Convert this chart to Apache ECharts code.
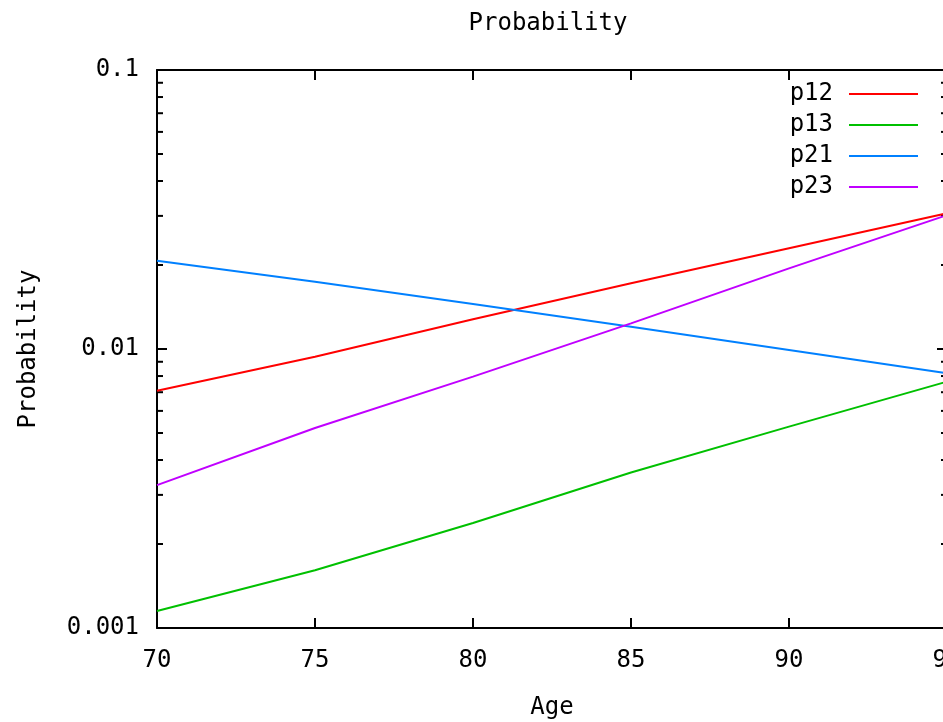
<!DOCTYPE html>
<html>
<head>
<meta charset="utf-8">
<style>
  html, body { margin: 0; padding: 0; overflow: hidden; background: #fff; }
  #chart { width: 960px; height: 722px; }
</style>
<script src="https://cdn.jsdelivr.net/npm/echarts@6/dist/echarts.min.js"></script>
</head>
<body>
<div id="chart"></div>
<script>
// values, every 5 years of age
var ages = [70, 75, 80, 85, 90, 95];
var p12 = [0.00709, 0.00938, 0.01278, 0.01720, 0.02296, 0.03064];
var p13 = [0.00115, 0.00161, 0.00238, 0.00361, 0.00527, 0.00764];
var p21 = [0.02072, 0.01741, 0.01449, 0.01202, 0.00992, 0.00818];
var p23 = [0.00325, 0.00521, 0.00796, 0.01236, 0.01946, 0.03020];
var seriesNames = ['p12', 'p13', 'p21', 'p23'];
var seriesColors = ['#ff0000', '#00c000', '#0080ff', '#c000ff'];
// log minor ticks (2..9 in each decade)
var yMinorTicks = [0.002, 0.003, 0.004, 0.005, 0.006, 0.007, 0.008, 0.009,
                   0.02, 0.03, 0.04, 0.05, 0.06, 0.07, 0.08, 0.09];

var font = 'DejaVu Sans Mono';
var fs = 24;

function pairs(ys) {
    return ages.map(function (a, i) { return [a, ys[i]]; });
}

var myChart = echarts.init(document.getElementById('chart'));

var lines = [p12, p13, p21, p23].map(function (ys, i) {
    return {
        name: seriesNames[i],
        type: 'line',
        symbol: 'none',
        data: pairs(ys),
        color: seriesColors[i],
        lineStyle: { width: 2, color: seriesColors[i] },
        z: 3
    };
});

var option = {
    animation: false,
    title: {
        text: 'Probability',
        left: 548,
        top: 12,
        textAlign: 'center',
        padding: 0,
        textStyle: { fontFamily: font, fontSize: fs, fontWeight: 'normal', color: '#000' }
    },
    legend: {
        data: seriesNames,
        orient: 'vertical',
        align: 'right',
        right: 42,
        top: 82,
        icon: 'rect',
        itemWidth: 69,
        itemHeight: 2,
        itemGap: 7,
        padding: 0,
        textStyle: { fontFamily: font, fontSize: fs, color: '#000', lineHeight: 24, padding: [0, 11, 0, 0] }
    },
    grid: { left: 157, top: 70, right: 13, bottom: 94, containLabel: false, outerBoundsMode: 'none' },
    xAxis: [{
        type: 'value',
        min: 70, max: 95, interval: 5,
        name: 'Age',
        nameLocation: 'middle',
        nameGap: 68,
        nameTextStyle: { fontFamily: font, fontSize: fs, color: '#000' },
        axisLine: { lineStyle: { color: '#000', width: 2 } },
        axisTick: { inside: true, length: 10, lineStyle: { color: '#000', width: 2 } },
        axisLabel: { margin: 21, fontFamily: font, fontSize: fs, color: '#000' },
        splitLine: { show: false }
    }, {
        type: 'value',
        position: 'top',
        min: 70, max: 95, interval: 5,
        axisLine: { lineStyle: { color: '#000', width: 2 } },
        axisTick: { inside: true, length: 10, lineStyle: { color: '#000', width: 2 } },
        axisLabel: { show: false },
        splitLine: { show: false }
    }],
    yAxis: [{
        type: 'log',
        logBase: 10,
        min: 0.001, max: 0.1,
        name: 'Probability',
        nameLocation: 'middle',
        nameRotate: 90,
        nameGap: 116,
        nameTextStyle: { fontFamily: font, fontSize: fs, color: '#000' },
        axisLine: { lineStyle: { color: '#000', width: 2 } },
        axisTick: { inside: true, length: 10, lineStyle: { color: '#000', width: 2 } },
        axisLabel: { margin: 18, fontFamily: font, fontSize: fs, color: '#000' },
        splitLine: { show: false }
    }, {
        type: 'log',
        logBase: 10,
        position: 'right',
        min: 0.001, max: 0.1,
        axisLine: { lineStyle: { color: '#000', width: 2 } },
        axisTick: { inside: true, length: 10, lineStyle: { color: '#000', width: 2 } },
        axisLabel: { show: false },
        splitLine: { show: false }
    }],
    series: lines.concat([{
        name: 'minorTicks',
        type: 'custom',
        silent: true,
        data: yMinorTicks.map(function (v) { return [70, v]; }),
        renderItem: function (params, api) {
            var v = api.value(1);
            var l = api.coord([70, v]);
            var r = api.coord([95, v]);
            var st = { stroke: '#000', lineWidth: 2 };
            return {
                type: 'group',
                children: [
                    { type: 'line', shape: { x1: l[0], y1: l[1], x2: l[0] + 6, y2: l[1] }, style: st },
                    { type: 'line', shape: { x1: r[0], y1: r[1], x2: r[0] - 6, y2: r[1] }, style: st }
                ]
            };
        },
        z: 2
    }])
};

myChart.setOption(option);
</script>
</body>
</html>
